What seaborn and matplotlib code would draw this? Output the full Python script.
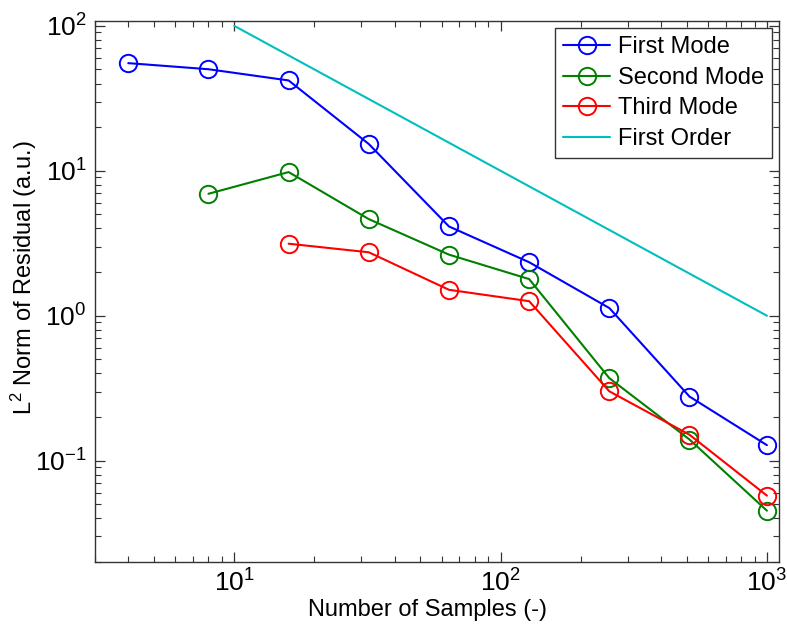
import numpy as np
import pandas as pd
import matplotlib
matplotlib.use("Agg")
import matplotlib.pyplot as plt
from matplotlib.lines import Line2D
import seaborn as sns

# Residual norms versus number of samples, per mode
samples = [4, 8, 16, 32, 64, 128, 256, 512, 1000]
first_mode = [55.3, 50.2, 42.0, 15.3, 4.13, 2.34, 1.13, 0.277, 0.128]
second_mode_x = [8, 16, 32, 64, 128, 256, 512, 1000]
second_mode = [6.94, 9.8, 4.64, 2.64, 1.79, 0.371, 0.140, 0.0452]
third_mode_x = [16, 32, 64, 128, 256, 512, 1000]
third_mode = [3.14, 2.74, 1.51, 1.26, 0.301, 0.151, 0.0574]
# Reference slope line (first order convergence)
order_x = [10, 1000]
order_y = [100, 1]

series_names = ["First Mode", "Second Mode", "Third Mode", "First Order"]
series_colors = ["#0000ff", "#008000", "#ff0000", "#00bfbf"]

sns.set_theme(style="ticks")
plt.rcParams["font.family"] = ["Liberation Sans", "DejaVu Sans"]
plt.rcParams["mathtext.fontset"] = "custom"
plt.rcParams["mathtext.rm"] = "Liberation Sans"
plt.rcParams["mathtext.it"] = "Liberation Sans"
plt.rcParams["mathtext.bf"] = "Liberation Sans"
plt.rcParams["axes.unicode_minus"] = False
plt.rcParams["text.color"] = "black"
plt.rcParams["axes.labelcolor"] = "black"
plt.rcParams["xtick.labelcolor"] = "black"
plt.rcParams["ytick.labelcolor"] = "black"

modes = pd.concat([
    pd.DataFrame({"samples": samples, "residual": first_mode, "series": series_names[0]}),
    pd.DataFrame({"samples": second_mode_x, "residual": second_mode, "series": series_names[1]}),
    pd.DataFrame({"samples": third_mode_x, "residual": third_mode, "series": series_names[2]}),
], ignore_index=True)
order = pd.DataFrame({"samples": order_x, "residual": order_y, "series": series_names[3]})

fig = plt.figure(figsize=(7.87, 6.29), dpi=100)
ax = fig.add_axes([95 / 787, 1 - 562 / 629, (779 - 95) / 787, (562 - 21) / 629])

for name, color in zip(series_names[:3], series_colors[:3]):
    sub = modes[modes["series"] == name]
    sns.lineplot(data=sub, x="samples", y="residual", ax=ax, color=color,
                 linewidth=1.5, marker="o", markersize=12.5,
                 markerfacecolor="none", markeredgecolor=color,
                 markeredgewidth=1.4, legend=False)
sns.lineplot(data=order, x="samples", y="residual", ax=ax,
             color=series_colors[3], linewidth=1.5, legend=False)

ax.set_xscale("log")
ax.set_yscale("log")
ax.set_xlim(3.0, 1110)
ax.set_ylim(0.02, 108)

ax.set_xlabel("Number of Samples (-)", fontsize=17)
ax.set_ylabel(r"L$^{2}$ Norm of Residual (a.u.)", fontsize=17)
ax.xaxis.set_label_coords(0.486, -0.068)
ax.yaxis.set_label_coords(-0.082, 0.525)

for side in ["top", "right", "bottom", "left"]:
    ax.spines[side].set_visible(True)
    ax.spines[side].set_color("#333333")
    ax.spines[side].set_linewidth(1.0)
ax.tick_params(which="both", direction="in", top=True, right=True,
               color="#333333", labelsize=19)
ax.tick_params(which="major", length=7, width=0.9)
ax.tick_params(which="minor", length=4, width=0.8)
ax.tick_params(axis="y", which="major", pad=6)
ax.tick_params(axis="x", which="major", pad=5)

handles = []
for name, color in zip(series_names[:3], series_colors[:3]):
    handles.append(Line2D([], [], color=color, linewidth=1.5, marker="o",
                          markersize=12.5, markerfacecolor="none",
                          markeredgecolor=color, markeredgewidth=1.4,
                          label=name))
handles.append(Line2D([], [], color=series_colors[3], linewidth=1.5,
                      label=series_names[3]))
leg = ax.legend(handles=handles, loc="upper right", fontsize=17,
                frameon=True, fancybox=False, edgecolor="#333333",
                framealpha=1, borderpad=0.35, labelspacing=0.36,
                handlelength=2.0, handletextpad=0.3, borderaxespad=0.3)
leg.get_frame().set_linewidth(1.0)

fig.savefig("out.png", dpi=100)
